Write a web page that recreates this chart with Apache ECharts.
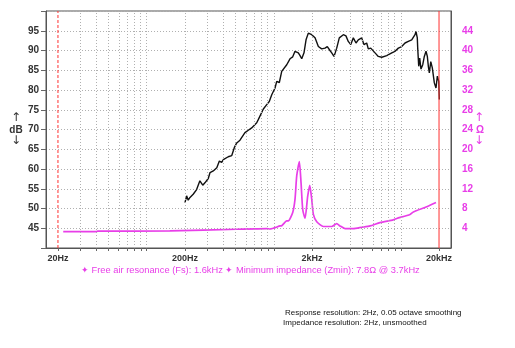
<!DOCTYPE html>
<html><head><meta charset="utf-8">
<script src="https://cdn.jsdelivr.net/npm/echarts@6/dist/echarts.min.js"></script>
<style>html,body{margin:0;padding:0;background:#fff}#c{width:515px;height:348px}</style>
</head><body><div id="c"></div>
<script>
// ---- data ----
const responseHz = [200,206,212,219,232,240,247,255,262,271,276,287,305,315,324,334,356,373,389,401,413,438,467,489,511,542,593,630,670,734,755,779,828,880,922,964,1023,1055,1106,1155,1265,1342,1410,1470,1561,1610,1660,1730,1795,1871,1990,2113,2244,2384,2531,2640,2770,2860,2980,3130,3280,3530,3700,3860,4040,4230,4440,4630,4920,5130,5390,5550,5800,6270,6650,7080,7750,8490,9010,9570,10170,10800,11460,12190,12940,13180,13490,13590,13840,14090,14420,14890,15320,15800,16180,16480,16780,17220,17710,18370,18930,19400,19900,20100];
const responseDb = [51.5,53.2,52.1,52.8,53.6,53.8,54.8,55.3,57.0,57.2,55.9,56.5,57.6,59.1,58.6,59.5,60.3,62.0,61.7,62.4,62.0,63.1,63.4,65.4,66.6,67.3,69.2,69.8,70.4,71.7,72.5,72.9,75.2,76.3,77.1,78.8,80.5,82.2,81.9,84.7,86.4,87.9,88.4,89.8,89.4,88.7,87.9,89.4,92.7,94.4,94.0,93.2,91.0,90.4,90.6,91.0,90.0,89.4,88.5,90.6,93.2,94.0,93.7,92.3,91.5,93.2,91.9,92.7,93.2,91.5,91.9,90.4,90.6,89.4,88.5,88.3,88.7,89.4,89.8,90.6,91.0,91.9,92.3,92.7,94.0,94.8,93.2,90.6,86.0,88.1,85.3,86.4,88.5,89.8,88.5,86.0,84.3,87.2,85.6,81.8,80.5,83.5,82.2,77.6];
const impedanceHz = [22,40,41,152,511,880,933,1120,1155,1265,1302,1410,1470,1516,1590,1640,1690,1763,1850,1920,1990,2050,2180,2460,2860,3130,3320,3640,4230,4920,5730,6860,8730,9290,11820,12560,16000,18930];
const impedanceOhm = [3.3,3.3,3.4,3.45,3.8,3.94,3.85,4.47,4.5,5.5,5.5,7.2,9.9,14.6,17.5,13.2,7.8,6.0,10.5,12.7,9.9,6.8,5.3,4.35,4.35,4.95,4.47,3.94,3.94,4.2,4.47,5.15,5.7,5.97,6.8,7.3,8.35,9.2];
const gridHz = [30,40,50,60,70,80,90,100,200,300,400,500,600,700,800,900,1000,2000,3000,4000,5000,6000,7000,8000,9000,10000];
const tickHz = [20,30,40,50,60,70,80,90,100,200,300,400,500,600,700,800,900,1000,2000,3000,4000,5000,6000,7000,8000,9000,10000,20000];
const labelHz = [20,200,2000,20000];
const labelText = ['20Hz','200Hz','2kHz','20kHz'];
const limitLowHz = 20, limitHighHz = 20000;
const xMinHz = 16.1, xMaxHz = 24850;
const dbMin = 40, dbMax = 100, dbStep = 5;
const ohmMin = 0, ohmMax = 48, ohmStep = 4;
const noteText = '\u2726 Free air resonance (Fs): 1.6kHz \u2726 Minimum impedance (Zmin): 7.8\u03A9 @ 3.7kHz';
const footer1 = 'Response resolution: 2Hz, 0.05 octave smoothing';
const footer2 = 'Impedance resolution: 2Hz, unsmoothed';

// ---- chart ----
const L = Math.log10;
const MAG = '#e83ee8';
const RED = '#ff3030';
const chart = echarts.init(document.getElementById('c'), null, {renderer:'canvas'});
const resp = responseHz.map((f,i)=>[L(f), responseDb[i]]);
const imp = impedanceHz.map((f,i)=>[L(f), impedanceOhm[i]]);
const axisFont = 'Liberation Sans, Arial, sans-serif';
const limitSeries = (hz, type) => ({type:'line',yAxisIndex:0,z:6,silent:true,symbol:'none',
  data:[[L(hz),dbMin],[L(hz),dbMax]],
  lineStyle:{color:RED,type:type,width:1}});
chart.setOption({
  animation:false,
  grid:{left:46,right:64,top:11,bottom:100,show:true,borderColor:'#555',borderWidth:1,backgroundColor:'transparent'},
  xAxis:{type:'value',min:L(xMinHz),max:L(xMaxHz),
    axisLine:{show:true,lineStyle:{color:'#555'}},
    splitLine:{show:false},
    axisTick:{show:true,customValues:tickHz.map(L),length:3,lineStyle:{color:'#666'}},
    axisLabel:{customValues:labelHz.map(L),margin:6,color:'#333',fontSize:9,fontWeight:'bold',
      fontFamily:'Liberation Sans Narrow, Arial Narrow, '+axisFont,
      formatter:v=>{const i=labelHz.findIndex(h=>Math.abs(L(h)-v)<1e-6);return i>=0?labelText[i]:'';}}
  },
  yAxis:[
    {type:'value',min:dbMin,max:dbMax,interval:dbStep,
      axisLine:{show:true,lineStyle:{color:'#555'}},
      axisTick:{show:true,length:5,lineStyle:{color:'#666'}},
      axisLabel:{margin:7,color:'#333',fontSize:10,fontWeight:'bold',fontFamily:axisFont,
        formatter:v=>(v===dbMin||v===dbMax)?'':String(v)},
      splitLine:{show:true,lineStyle:{color:'#b0b0b0',type:[1,2],width:1}}},
    {type:'value',min:ohmMin,max:ohmMax,interval:ohmStep,position:'right',
      axisLine:{show:true,lineStyle:{color:'#555'}},
      axisTick:{show:false},
      axisLabel:{margin:11,color:MAG,fontSize:10,fontWeight:'bold',fontFamily:axisFont,
        formatter:v=>(v===ohmMin||v===ohmMax)?'':String(v)},
      splitLine:{show:false}}
  ],
  series:[
    {type:'line',data:[],z:1,silent:true,
      markLine:{silent:true,symbol:'none',label:{show:false},animation:false,
        lineStyle:{color:'#b0b0b0',type:[1,2],width:1},
        data:gridHz.map(h=>({xAxis:L(h)}))}},
    limitSeries(limitLowHz,[3,2]),
    limitSeries(limitHighHz,'solid'),
    {type:'line',data:resp,yAxisIndex:0,z:4,symbol:'none',smooth:false,
      lineStyle:{color:'#111',width:1.4}},
    {type:'line',data:imp,yAxisIndex:1,z:3,symbol:'none',smooth:0.2,
      lineStyle:{color:MAG,width:1.7}}
  ],
  graphic:[
    {type:'text',left:81,top:266,style:{text:noteText,fill:MAG,font:'9.3px '+axisFont}},
    {type:'text',left:285,top:309,style:{text:footer1,fill:'#111',font:'8px '+axisFont}},
    {type:'text',left:283,top:319,style:{text:footer2,fill:'#111',font:'8px '+axisFont}},
    {type:'text',x:16,y:118,style:{text:'\u2191',fill:'#333',font:'12px DejaVu Sans, sans-serif',align:'center',verticalAlign:'middle'}},
    {type:'text',x:16,y:130,style:{text:'dB',fill:'#333',font:'bold 10px '+axisFont,align:'center',verticalAlign:'middle'}},
    {type:'text',x:16,y:141,style:{text:'\u2193',fill:'#333',font:'12px DejaVu Sans, sans-serif',align:'center',verticalAlign:'middle'}},
    {type:'text',x:479,y:118,style:{text:'\u2191',fill:MAG,font:'12px DejaVu Sans, sans-serif',align:'center',verticalAlign:'middle'}},
    {type:'text',x:480,y:130,style:{text:'\u03A9',fill:MAG,font:'bold 10px '+axisFont,align:'center',verticalAlign:'middle'}},
    {type:'text',x:479,y:141,style:{text:'\u2193',fill:MAG,font:'12px DejaVu Sans, sans-serif',align:'center',verticalAlign:'middle'}}
  ]
});
</script></body></html>
